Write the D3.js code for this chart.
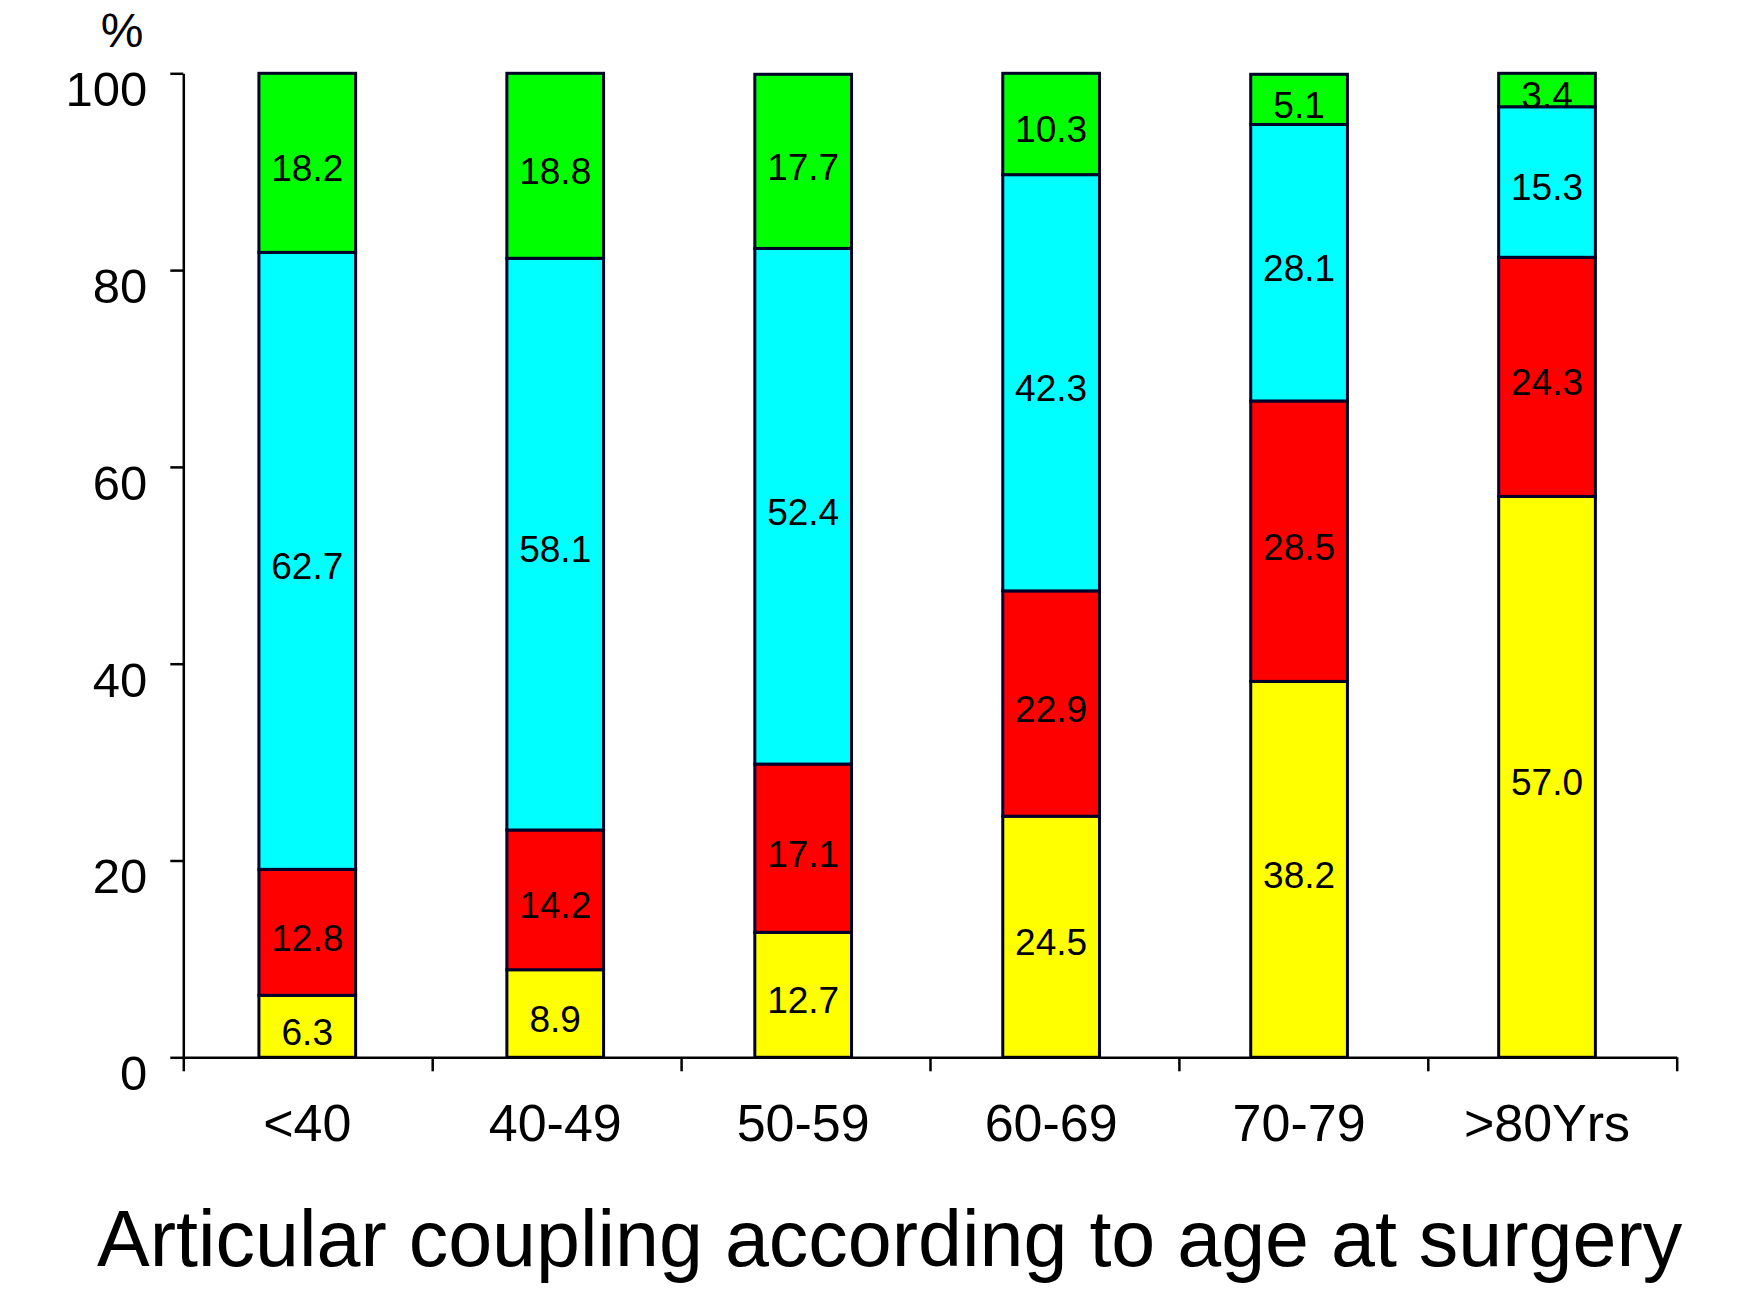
<!DOCTYPE html>
<html lang="en">
<head>
  <meta charset="utf-8" />
  <title>Articular coupling according to age at surgery</title>
  <script src="https://d3js.org/d3.v7.min.js"></script>
  <style>
    body { margin: 0; background: #fff; }
    text { font-family: "Liberation Sans", Arial, Helvetica, sans-serif; }
  </style>
</head>
<body>
<script>
  // data (bottom segment first)
  var categories = ["<40", "40-49", "50-59", "60-69", "70-79", ">80Yrs"];
  var yellowVals = [6.3, 8.9, 12.7, 24.5, 38.2, 57.0];
  var redVals    = [12.8, 14.2, 17.1, 22.9, 28.5, 24.3];
  var cyanVals   = [62.7, 58.1, 52.4, 42.3, 28.1, 15.3];
  var greenVals  = [18.2, 18.8, 17.7, 10.3, 5.1, 3.4];
  var seriesKeys = ["yellow", "red", "cyan", "green"];
  var seriesColors = ["#ffff00", "#ff0000", "#00ffff", "#00ff00"];
  var yTicks = [0, 20, 40, 60, 80, 100];

  var w = 1738;
  var h = 1297;

  // the plot area
  var x0 = 183.3, x1 = 1676.7;
  var yTop = 73.3, yBase = 1057.3;

  // build rows for d3.stack
  var rows = categories.map(function(c, i) {
    return { cat: c, yellow: yellowVals[i], red: redVals[i], cyan: cyanVals[i], green: greenVals[i] };
  });
  var stacked = d3.stack().keys(seriesKeys)(rows);

  var svg = d3.select("body")
      .append("svg")
      .attr("width", w)
      .attr("height", h);

  // bars sit on a slightly shorter band than the axis (as in the original)
  var x = d3.scaleBand()
      .domain(categories)
      .range([x0, x1 - 5.7])
      .paddingInner(0.61)
      .paddingOuter(0.305);

  var y = d3.scaleLinear()
      .domain([0, 100])
      .range([yBase, yTop]);

  // bars
  var layers = svg.selectAll("g.layer")
      .data(stacked)
      .enter()
      .append("g")
      .attr("class", "layer")
      .attr("fill", function(d, i) { return seriesColors[i]; });

  layers.selectAll("rect")
      .data(function(d) { return d; })
      .enter()
      .append("rect")
      .attr("x", function(d) { return x(d.data.cat); })
      .attr("y", function(d) { return y(d[1]); })
      .attr("width", x.bandwidth())
      .attr("height", function(d) { return y(d[0]) - y(d[1]); })
      .attr("stroke", "#000028")
      .attr("stroke-width", 3);

  // value labels in the middle of each segment
  layers.selectAll("text")
      .data(function(d) { return d; })
      .enter()
      .append("text")
      .text(function(d) { return d3.format(".1f")(d[1] - d[0]); })
      .attr("x", function(d) { return x(d.data.cat) + x.bandwidth() / 2; })
      .attr("y", function(d) { return y((d[0] + d[1]) / 2) + 5; })
      .attr("dy", "0.36em")
      .attr("text-anchor", "middle")
      .attr("font-size", "37px")
      .attr("fill", "#000");

  // y axis
  var yAxis = d3.axisLeft(y)
      .tickValues(yTicks)
      .tickSize(13)
      .tickSizeOuter(0)
      .tickPadding(23);

  var gy = svg.append("g")
      .attr("transform", "translate(" + x0 + ",0)")
      .call(yAxis);
  gy.selectAll("path, line").attr("stroke", "#000").attr("stroke-width", 2.5);
  gy.selectAll("text")
      .attr("font-size", "49px")
      .attr("fill", "#000")
      .attr("dy", "0.66em");

  // x axis: tick marks at the category boundaries
  var xb = d3.scaleLinear().domain([0, categories.length]).range([x0, x1]);
  var gxTicks = svg.append("g")
      .attr("transform", "translate(0," + yBase + ")")
      .call(d3.axisBottom(xb)
        .ticks(categories.length)
        .tickSize(14)
        .tickSizeOuter(0)
        .tickFormat(""));
  gxTicks.selectAll("path, line").attr("stroke", "#000").attr("stroke-width", 2.5);

  // x axis: category labels
  var gx = svg.append("g")
      .attr("transform", "translate(0," + yBase + ")")
      .call(d3.axisBottom(x).tickSize(0).tickPadding(0));
  gx.select(".domain").remove();
  gx.selectAll("text")
      .attr("font-size", "52px")
      .attr("fill", "#000")
      .attr("y", 83.4)
      .attr("dy", 0);

  // "%" unit label
  svg.append("text")
      .text("%")
      .attr("x", 122)
      .attr("y", 46.7)
      .attr("text-anchor", "middle")
      .attr("font-size", "48px")
      .attr("fill", "#000");

  // title under the chart
  svg.append("text")
      .text("Articular coupling according to age at surgery")
      .attr("x", 97)
      .attr("y", 1266)
      .attr("font-size", "79px")
      .attr("fill", "#000");
</script>
</body>
</html>
